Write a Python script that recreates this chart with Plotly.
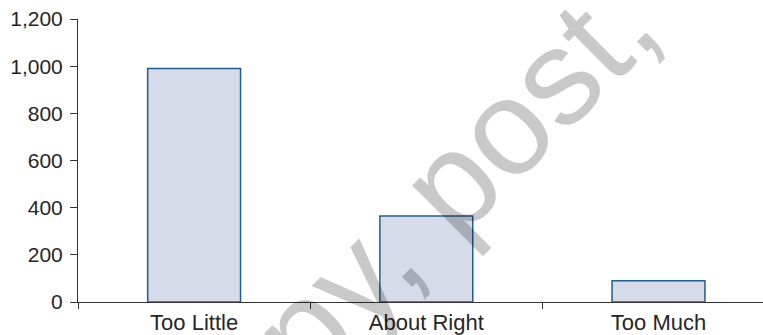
import plotly.graph_objects as go

# Survey responses by category
categories = ["Too Little", "About Right", "Too Much"]
counts = [990, 365, 90]

# Axis ticks
y_tick_values = [0, 200, 400, 600, 800, 1000, 1200]
y_tick_labels = ["0", "200", "400", "600", "800", "1,000", "1,200"]

watermark_text = "copy, post,"

axis_color = "#333333"
text_color = "#262626"
font_family = "Liberation Sans, Arial, Helvetica, sans-serif"

fig = go.Figure(
    go.Bar(
        x=categories,
        y=counts,
        width=0.4,
        marker=dict(color="#d5dbe8", line=dict(color="#1f5f8e", width=1.5)),
        hoverinfo="x+y",
    )
)

fig.update_layout(
    width=763,
    height=335,
    margin=dict(l=78, r=0, t=19, b=33, pad=0),
    paper_bgcolor="white",
    plot_bgcolor="white",
    showlegend=False,
    font=dict(family=font_family, size=21, color=text_color),
)

fig.update_xaxes(
    type="category",
    range=[-0.5, 2.45],
    showline=True,
    linecolor=axis_color,
    linewidth=1,
    ticks="outside",
    tickson="boundaries",
    ticklen=6,
    tickcolor=axis_color,
    tickwidth=1,
    showgrid=False,
    zeroline=False,
    tickfont=dict(size=22, color=text_color),
    ticklabelstandoff=1,
)

fig.update_yaxes(
    range=[0, 1200],
    tickvals=y_tick_values,
    ticktext=y_tick_labels,
    showline=True,
    linecolor=axis_color,
    linewidth=1,
    ticks="outside",
    ticklen=7,
    tickcolor=axis_color,
    tickwidth=1,
    showgrid=False,
    zeroline=False,
    tickfont=dict(size=21, color=text_color),
    ticklabelstandoff=3,
)

# Diagonal watermark across the plot
fig.add_annotation(
    text=watermark_text,
    xref="paper",
    yref="paper",
    x=0.474,
    y=0.255,
    xanchor="center",
    yanchor="middle",
    textangle=-45,
    showarrow=False,
    font=dict(family="Liberation Sans, Arial, sans-serif", size=136, color="rgba(0,0,0,0.21)"),
)

fig.write_html("out.html")
